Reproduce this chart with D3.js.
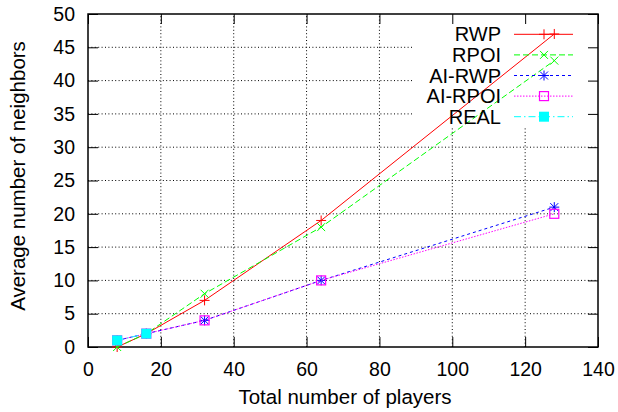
<!DOCTYPE html>
<html>
<head>
<meta charset="utf-8">
<script src="https://cdn.jsdelivr.net/npm/d3@7"></script>
<style>
  html, body { margin: 0; padding: 0; background: #fff; }
  svg { display: block; font-family: "Liberation Sans", Arial, sans-serif; }
</style>
</head>
<body>
<svg id="chart" width="618" height="412"></svg>
<script>
// Number of players in the session
const players = [8, 16, 32, 64, 128];
const realPlayers = [8, 16];

// Average number of neighbours per model
const rwp = [0, 2, 7, 19, 47];
const rpoi = [0, 2, 8, 18, 43];
const aiRwp = [1, 2, 4, 10, 21];
const aiRpoi = [1, 2, 4, 10, 20];
const real = [1, 2];

const xTicks = [0, 20, 40, 60, 80, 100, 120, 140];
const yTicks = [0, 5, 10, 15, 20, 25, 30, 35, 40, 45, 50];

const series = [
  { name: "RWP",     xs: players,     ys: rwp,    color: "#ff0000", dash: null,          marker: "plus" },
  { name: "RPOI",    xs: players,     ys: rpoi,   color: "#00ff00", dash: "6,3",         marker: "cross" },
  { name: "AI-RWP",  xs: players,     ys: aiRwp,  color: "#0000ff", dash: "3,3",         marker: "star" },
  { name: "AI-RPOI", xs: players,     ys: aiRpoi, color: "#ff00ff", dash: "1.5,1.5",     marker: "box" },
  { name: "REAL",    xs: realPlayers, ys: real,   color: "#00ffff", dash: "7,3,1.5,3",   marker: "fbox" }
];

const svg = d3.select("#chart");
const L = 88, R = 598, T = 14, B = 347;
const x = d3.scaleLinear().domain([0, 140]).range([L, R]);
const y = d3.scaleLinear().domain([0, 50]).range([B, T]);
const FONT = 19.5;

// grid
const grid = svg.append("g");
grid.selectAll(".gx").data(xTicks.slice(1, -1)).join("line")
  .attr("x1", d => x(d)).attr("x2", d => x(d)).attr("y1", B).attr("y2", T)
  .attr("stroke", "#000").attr("stroke-width", 1).attr("stroke-dasharray", "1,2.4");
grid.selectAll(".gy").data(yTicks.slice(1, -1)).join("line")
  .attr("x1", L).attr("x2", R).attr("y1", d => y(d)).attr("y2", d => y(d))
  .attr("stroke", "#000").attr("stroke-width", 1).attr("stroke-dasharray", "1,2.4");

// opaque key background
const keyX0 = 413, keyY1 = 128;
svg.append("rect").attr("x", keyX0).attr("y", T).attr("width", R - keyX0).attr("height", keyY1 - T)
  .attr("fill", "#fff");

// axes with inward ticks, mirrored on all sides
const tick = 10;
const gx = svg.append("g").attr("transform", `translate(0,${B})`)
  .call(d3.axisBottom(x).tickValues(xTicks).tickSizeInner(-tick).tickSizeOuter(0).tickPadding(15));
const gxTop = svg.append("g").attr("transform", `translate(0,${T})`)
  .call(d3.axisTop(x).tickValues(xTicks).tickSizeInner(-tick).tickSizeOuter(0).tickFormat(""));
const gy = svg.append("g").attr("transform", `translate(${L},0)`)
  .call(d3.axisLeft(y).tickValues(yTicks).tickSizeInner(-tick).tickSizeOuter(0).tickPadding(13));
const gyRight = svg.append("g").attr("transform", `translate(${R},0)`)
  .call(d3.axisRight(y).tickValues(yTicks).tickSizeInner(-tick).tickSizeOuter(0).tickFormat(""));
[gx, gxTop, gy, gyRight].forEach(g => {
  g.select(".domain").remove();
  g.selectAll(".tick line").attr("stroke", "#000").attr("stroke-width", 1);
  g.selectAll("text").attr("fill", "#000").attr("font-size", FONT)
    .attr("font-family", "Liberation Sans, Arial, sans-serif");
});
svg.append("rect").attr("x", L).attr("y", T).attr("width", R - L).attr("height", B - T)
  .attr("fill", "none").attr("stroke", "#000").attr("stroke-width", 1.5);

// axis titles
svg.append("text").attr("x", 345).attr("y", 404).attr("text-anchor", "middle")
  .attr("font-size", 20.5).text("Total number of players");
svg.append("text").attr("transform", `translate(25,176) rotate(-90)`)
  .attr("text-anchor", "middle").attr("font-size", 20.5).text("Average number of neighbors");

// point markers
function drawMarker(g, type, cx, cy, color) {
  const s = 5;
  if (type === "plus" || type === "star") {
    g.append("path").attr("d", `M${cx - s},${cy}H${cx + s}M${cx},${cy - s}V${cy + s}`)
      .attr("stroke", color).attr("stroke-width", 1).attr("fill", "none");
  }
  if (type === "cross" || type === "star") {
    const c = s * 0.8;
    g.append("path").attr("d", `M${cx - c},${cy - c}L${cx + c},${cy + c}M${cx - c},${cy + c}L${cx + c},${cy - c}`)
      .attr("stroke", color).attr("stroke-width", 1).attr("fill", "none");
  }
  if (type === "box") {
    g.append("rect").attr("x", cx - 4.5).attr("y", cy - 4.5).attr("width", 9).attr("height", 9)
      .attr("stroke", color).attr("stroke-width", 1.2).attr("fill", "none");
  }
  if (type === "fbox") {
    g.append("rect").attr("x", cx - 5).attr("y", cy - 5).attr("width", 10).attr("height", 10)
      .attr("fill", color);
  }
}

// data
const line = d3.line().x(d => x(d[0])).y(d => y(d[1]));
series.forEach(s => {
  const g = svg.append("g");
  const pts = s.xs.map((v, i) => [v, s.ys[i]]);
  g.append("path").attr("d", line(pts)).attr("fill", "none")
    .attr("stroke", s.color).attr("stroke-width", 1)
    .attr("stroke-dasharray", s.dash);
  pts.forEach(p => drawMarker(g, s.marker, x(p[0]), y(p[1]), s.color));
});

// key
const key = svg.append("g");
series.forEach((s, i) => {
  const ky = 34.3 + i * 20.6;
  key.append("text").attr("x", 501).attr("y", ky).attr("dy", "0.35em")
    .attr("text-anchor", "end").attr("font-size", 20).text(s.name);
  key.append("line").attr("x1", 514).attr("x2", 573).attr("y1", ky).attr("y2", ky)
    .attr("stroke", s.color).attr("stroke-width", 1).attr("stroke-dasharray", s.dash);
  drawMarker(key, s.marker, 544, ky, s.color);
});
</script>
</body>
</html>
